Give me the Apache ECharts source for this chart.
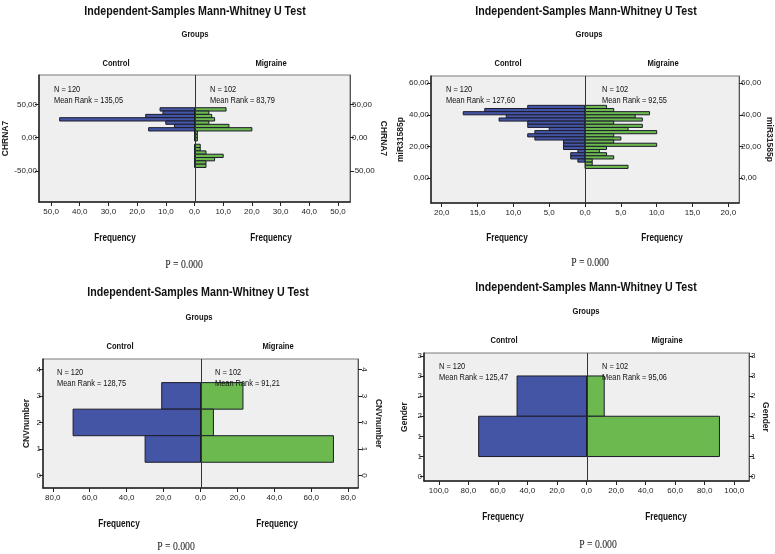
<!DOCTYPE html>
<html><head><meta charset="utf-8">
<script src="https://cdn.jsdelivr.net/npm/echarts@6/dist/echarts.min.js"></script>
<style>html,body{margin:0;padding:0;background:#fff}#c{width:775px;height:554px}</style>
</head><body><div id="c"></div><script>
// ---------- DATA ----------
// Panel 1: CHRNA7 (bins listed top to bottom)
const chrnaBinHigh = [45, 40, 35, 30, 25, 20, 15, 10, 5, 0, -5, -10, -15, -20, -25, -30, -35, -40];
const chrnaBinLow  = [40, 35, 30, 25, 20, 15, 10, 5, 0, -5, -10, -15, -20, -25, -30, -35, -40, -45];
const chrnaControl  = [12, 11, 17, 47, 10, 7, 16, 0, 0, 0, 0, 0, 0, 0, 0, 0, 0, 0];
const chrnaMigraine = [11, 5, 6, 7, 5, 12, 20, 1, 1, 1, 0, 2, 2, 4, 10, 7, 4, 4];

// Panel 2: miR31585p
const mirBinHigh = [46, 44, 42, 40, 38, 36, 34, 32, 30, 28, 26, 24, 22, 20, 18, 16, 14, 12, 10, 8];
const mirBinLow  = [44, 42, 40, 38, 36, 34, 32, 30, 28, 26, 24, 22, 20, 18, 16, 14, 12, 10, 8, 6];
const mirControl  = [8, 14, 17, 11, 12, 8, 8, 5, 7, 8, 7, 3, 3, 3, 1, 2, 2, 1, 0, 0];
const mirMigraine = [3, 4, 9, 7, 8, 4, 8, 6, 10, 4, 5, 4, 10, 3, 2, 3, 4, 1, 1, 6];

// Panel 3: CNVnumber
const cnvBinHigh = [3.5, 2.5, 1.5];
const cnvBinLow  = [2.5, 1.5, 0.5];
const cnvControl  = [21, 69, 30];
const cnvMigraine = [23, 7, 72];

// Panel 4: Gender
const genderBinHigh = [2.5, 1.5];
const genderBinLow  = [1.5, 0.5];
const genderControl  = [47, 73];
const genderMigraine = [12, 90];

// Tick values
const chrnaXTicks = [-50, -40, -30, -20, -10, 0, 10, 20, 30, 40, 50];
const chrnaYTicks = [-50, 0, 50];
const mirXTicks = [-20, -15, -10, -5, 0, 5, 10, 15, 20];
const mirYTicks = [0, 20, 40, 60];
const cnvXTicks = [-80, -60, -40, -20, 0, 20, 40, 60, 80];
const cnvYTicks = [0, 1, 2, 3, 4];
const genderXTicks = [-100, -80, -60, -40, -20, 0, 20, 40, 60, 80, 100];
const genderYTicks = [0, 0.5, 1, 1.5, 2, 2.5, 3];

const groupNames = ['Control', 'Migraine'];
const nTexts = [
  ['N = 120', 'Mean Rank = 135,05', 'N = 102', 'Mean Rank = 83,79'],
  ['N = 120', 'Mean Rank = 127,60', 'N = 102', 'Mean Rank = 92,55'],
  ['N = 120', 'Mean Rank = 128,75', 'N = 102', 'Mean Rank = 91,21'],
  ['N = 120', 'Mean Rank = 125,47', 'N = 102', 'Mean Rank = 95,06']
];
const varNames = ['CHRNA7', 'miR31585p', 'CNVnumber', 'Gender'];
const titleText = 'Independent-Samples Mann-Whitney U Test';
const pText = 'P = 0.000';

// ---------- RENDER ----------
const FONT = "'Liberation Sans',Arial,sans-serif";
const BLUE = '#4455A5', GREEN = '#6BB94F';
const comma = (v, d) => Math.abs(v).toFixed(d).replace('.', ',');

const panels = [
  {grid:{left:39, top:75, width:311, height:127}, xMax:54.2, yMin:-97, yMax:94.3,
   xTicks:chrnaXTicks, yTicks:chrnaYTicks, xFmt:v=>comma(v,1), yFmt:v=>(v<0?'-':'')+comma(v,2),
   hi:chrnaBinHigh, lo:chrnaBinLow, ctrl:chrnaControl, mig:chrnaMigraine, rRot:0, gapL:27.5, gapR:25.5,
   t:{title:[195,11], groups:[195,34], ctrl:[116,63], mig:[271,63], freqL:[115,238], freqR:[271,238], p:[184,265], nL:[54,89], nR:[210,89]}},
  {grid:{left:431, top:76, width:311, height:127}, xMax:21.5, yMin:-15.9, yMax:64.6,
   xTicks:mirXTicks, yTicks:mirYTicks, xFmt:v=>comma(v,1), yFmt:v=>comma(v,2),
   hi:mirBinHigh, lo:mirBinLow, ctrl:mirControl, mig:mirMigraine, rRot:0, gapL:24.5, gapR:23.5,
   t:{title:[586,11], groups:[589,34], ctrl:[508,63], mig:[663,63], freqL:[507,238], freqR:[662,238], p:[590,263], nL:[446,89], nR:[602,89]}},
  {grid:{left:43, top:359, width:315, height:129}, xMax:85.3, yMin:-0.47, yMax:4.39,
   xTicks:cnvXTicks, yTicks:cnvYTicks, xFmt:v=>comma(v,1), yFmt:v=>String(v),
   hi:cnvBinHigh, lo:cnvBinLow, ctrl:cnvControl, mig:cnvMigraine, rRot:-90, gapL:12, gapR:15.5,
   t:{title:[198,292], groups:[199,317], ctrl:[120,346], mig:[278,346], freqL:[119,524], freqR:[277,524], p:[176,547], nL:[57,372], nR:[215,372]}},
  {grid:{left:424, top:353, width:325, height:128}, xMax:110, yMin:-0.107, yMax:3.07,
   xTicks:genderXTicks, yTicks:genderYTicks, xFmt:v=>comma(v,1), yFmt:v=>String(Math.round(v)),
   hi:genderBinHigh, lo:genderBinLow, ctrl:genderControl, mig:genderMigraine, rRot:0, gapL:14.5, gapR:11.5,
   t:{title:[586,287], groups:[586,311], ctrl:[504,340], mig:[667,340], freqL:[503,517], freqR:[666,517], p:[598,545], nL:[439,366], nR:[602,366]}}
];

function rectRender(color, sign) {
  return function (params, api) {
    const lo = api.value(0), hi = api.value(1), n = api.value(2);
    if (!n) return;
    const a = api.coord([0, hi]);
    const b = api.coord([sign * n, lo]);
    return {
      type: 'rect',
      shape: {x: Math.min(a[0], b[0]), y: a[1], width: Math.abs(b[0] - a[0]), height: b[1] - a[1]},
      style: {fill: color, stroke: '#1c1c2a', lineWidth: 1}
    };
  };
}
function centerRender(params, api) {
  const cs = params.coordSys;
  const x = Math.round(api.coord([0, 0])[0]) + 0.5;
  return {type: 'line', shape: {x1: x, y1: cs.y, x2: x, y2: cs.y + cs.height}, style: {stroke: '#333', lineWidth: 1}};
}

const grid = [], xAxis = [], yAxis = [], series = [], graphic = [];
const axisCol = '#222';
const lblStyle = {fontFamily: FONT, fontSize: 8, color: '#222'};
panels.forEach((p, i) => {
  grid.push(Object.assign({show: true, backgroundColor: '#EFEFEF', borderColor: '#7a7a7a', borderWidth: 1}, p.grid));
  xAxis.push({gridIndex: i, type: 'value', min: -p.xMax, max: p.xMax,
    axisLine: {show: true, onZero: false, lineStyle: {color: axisCol, width: 1.5}},
    axisTick: {show: true, customValues: p.xTicks, length: 4, lineStyle: {color: axisCol}},
    axisLabel: Object.assign({customValues: p.xTicks, formatter: p.xFmt, margin: 6}, lblStyle),
    splitLine: {show: false}});
  const yBase = {gridIndex: i, type: 'value', min: p.yMin, max: p.yMax, name: varNames[i], nameLocation: 'middle',
    nameTextStyle: {fontFamily: FONT, fontWeight: 'bold', fontSize: 8.5, color: '#222'},
    axisTick: {show: true, customValues: p.yTicks, length: 4, lineStyle: {color: axisCol}},
    splitLine: {show: false}};
  yAxis.push(Object.assign({}, yBase, {position: 'left', nameRotate: 90, nameGap: p.gapL,
    axisLine: {show: true, onZero: false, lineStyle: {color: axisCol, width: 1.5}},
    axisLabel: Object.assign({customValues: p.yTicks, formatter: p.yFmt, margin: 2}, lblStyle)}));
  yAxis.push(Object.assign({}, yBase, {position: 'right', nameRotate: -90, nameGap: p.gapR,
    axisLine: {show: true, onZero: false, lineStyle: {color: '#555', width: 1}},
    axisLabel: Object.assign({customValues: p.yTicks, formatter: p.yFmt, margin: 2, rotate: p.rRot}, lblStyle)}));
  const ctrlData = p.ctrl.map((n, k) => [p.lo[k], p.hi[k], n]);
  const migData = p.mig.map((n, k) => [p.lo[k], p.hi[k], n]);
  series.push({type: 'custom', xAxisIndex: i, yAxisIndex: 2 * i, clip: true, data: ctrlData, renderItem: rectRender(BLUE, -1), silent: true});
  series.push({type: 'custom', xAxisIndex: i, yAxisIndex: 2 * i, clip: true, data: migData, renderItem: rectRender(GREEN, 1), silent: true});
  series.push({type: 'custom', xAxisIndex: i, yAxisIndex: 2 * i, data: [[0, 0]], renderItem: centerRender, silent: true, z: 5});

  const txt = (pos, text, style, sx) => graphic.push({type: 'text', x: pos[0], y: pos[1], scaleX: sx, silent: true, z: 10,
    style: Object.assign({text, fill: '#111', fontFamily: FONT, align: 'center', verticalAlign: 'middle'}, style)});
  txt(p.t.title, titleText, {fontSize: 13.5, fontWeight: 'bold'}, 0.79);
  txt(p.t.groups, 'Groups', {fontSize: 9.5, fontWeight: 'bold'}, 0.8);
  txt(p.t.ctrl, groupNames[0], {fontSize: 9.5, fontWeight: 'bold'}, 0.8);
  txt(p.t.mig, groupNames[1], {fontSize: 9.5, fontWeight: 'bold'}, 0.8);
  txt(p.t.freqL, 'Frequency', {fontSize: 10.5, fontWeight: 'bold'}, 0.78);
  txt(p.t.freqR, 'Frequency', {fontSize: 10.5, fontWeight: 'bold'}, 0.78);
  txt(p.t.p, pText, {fontSize: 13, fontFamily: "'Liberation Serif','Times New Roman',serif"}, 0.75);
  txt([p.t.nL[0], p.t.nL[1] - 5], nTexts[i][0] + '\n' + nTexts[i][1], {fontSize: 9.5, align: 'left', verticalAlign: 'top', lineHeight: 11}, 0.78);
  txt([p.t.nR[0], p.t.nR[1] - 5], nTexts[i][2] + '\n' + nTexts[i][3], {fontSize: 9.5, align: 'left', verticalAlign: 'top', lineHeight: 11}, 0.78);
});

const chart = echarts.init(document.getElementById('c'), null, {renderer: 'canvas'});
chart.setOption({animation: false, backgroundColor: '#fff', grid, xAxis, yAxis, series, graphic});
</script></body></html>
